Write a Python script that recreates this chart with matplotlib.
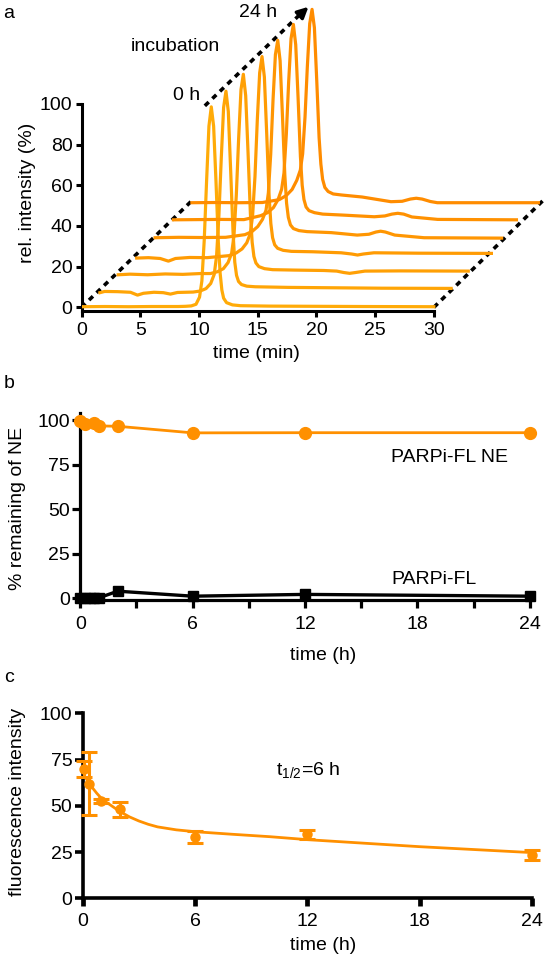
import matplotlib
matplotlib.use("Agg")
import matplotlib.pyplot as plt
import numpy as np

plt.rcParams["font.family"] = ["Liberation Sans", "DejaVu Sans"]
plt.rcParams["font.size"] = 14
plt.rcParams["mathtext.default"] = "regular"

# ---- panel a: HPLC traces, local time (min) / rel. intensity (%) ----
trace0_t = [0, 2, 4, 6, 8.25, 8.85, 9.35, 9.75, 10.05, 10.25, 10.45, 10.65, 10.85, 11.05, 11.25,
            11.45, 11.65, 11.8, 11.95, 12.1, 12.35, 12.85, 13.55, 16, 20, 24, 30]
trace0_y = [0.3, 0.4, 0.3, 0.4, 0.4, 0.5, 0.7, 1.5, 5, 13, 33, 62, 89, 98.5, 89,
            62, 32, 17, 8.5, 4.5, 2.3, 1.2, 0.8, 0.6, 0.5, 0.4, 0.3]

trace1_t = [0, 0.4, 1.5, 2.6, 3.2, 3.7, 4.6, 5.4, 6.0, 6.6, 7.93, 8.53, 9.03, 9.43, 9.73, 9.93,
            10.13, 10.33, 10.53, 10.73, 10.93, 11.13, 11.33, 11.48, 11.63, 11.8, 12.05, 12.5, 13.23,
            16, 20, 24, 29.9]
trace1_y = [0, 0.6, 0.5, 0.2, -1.2, -0.3, 0.2, 0.0, -0.7, 0.1, 0.3, 0.8, 2, 4.5, 9, 18,
            38, 66, 91, 99, 89, 60, 30, 15, 8.5, 5.5, 4.0, 3.2, 2.9,
            2.6, 2.4, 2.2, 2.1]

trace2_t = [0, 1, 2.5, 4, 5.5, 7, 7.85, 8.45, 8.95, 9.35, 9.65, 9.85, 10.05, 10.25, 10.45, 10.65,
            10.85, 11.05, 11.25, 11.4, 11.55, 11.72, 11.97, 12.45, 13.15, 15, 17.5, 18.6, 19.2,
            19.7, 20.2, 21, 24, 29.8]
trace2_y = [0, 0.3, 0, 0.4, 0.2, 0.6, 0.6, 1.5, 3, 6, 10.5, 19, 39, 67, 91, 98.5,
            88, 60, 30, 16, 9, 5.8, 4.0, 3.0, 2.5, 2.3, 2.1, 1.8, 1.1,
            0.7, 1.1, 1.8, 1.9, 1.8]

trace3_t = [0, 1, 2.0, 2.7, 3.3, 4.5, 6, 7.87, 8.47, 8.97, 9.37, 9.67, 9.87, 10.07, 10.27, 10.47,
            10.67, 10.87, 11.07, 11.27, 11.42, 11.57, 11.75, 12.0, 12.47, 13.17, 15, 17.4, 18.3,
            18.8, 19.3, 20.2, 24, 30.2]
trace3_y = [0, 0.2, -0.2, -1.5, -0.2, 0.3, 0.2, 1.2, 2.5, 4.5, 7.5, 12, 21, 40, 68, 91,
            99, 89, 61, 31, 17, 10, 6.5, 4.8, 3.8, 3.3, 3.1, 2.6, 2.0,
            1.5, 2.0, 2.6, 2.4, 2.3]

trace4_t = [0, 2, 4, 6, 7.64, 8.24, 8.74, 9.14, 9.44, 9.64, 9.84, 10.04, 10.24, 10.44, 10.64,
            10.84, 11.04, 11.19, 11.34, 11.52, 11.77, 12.24, 12.94, 15, 17.2, 18.2, 18.8, 19.2,
            19.6, 20.4, 22.9, 29.5]
trace4_y = [0, 0.2, 0.1, 0.2, 1.5, 3, 5.5, 9, 13.5, 22, 41, 68, 90, 97, 87,
            60, 31, 17, 10, 6.3, 4.5, 3.5, 3, 2.5, 1.3, 1.7, 2.8, 3.2,
            2.8, 1.3, 0, -0.2]

trace5_t = [0, 2, 4, 6, 7.41, 8.01, 8.51, 8.91, 9.21, 9.41, 9.61, 9.81, 10.01, 10.21, 10.41,
            10.61, 10.81, 10.96, 11.11, 11.29, 11.54, 12.01, 12.71, 14.5, 17.1, 18.0, 18.6, 19.1,
            19.6, 20.3, 22.5, 29.2]
trace5_y = [0, 0.1, 0.2, 0.1, 2, 3.5, 6, 10, 15, 23, 42, 68, 89, 96, 86,
            60, 31, 17, 10, 6.3, 4.5, 3.5, 2.8, 2.3, 1.5, 1.9, 2.8, 3.2,
            2.8, 1.4, 0.2, 0]

trace6_t = [0, 2, 4, 6, 7.43, 8.03, 8.53, 8.93, 9.23, 9.43, 9.63, 9.83, 10.03, 10.23, 10.43,
            10.63, 10.83, 10.98, 11.13, 11.32, 11.6, 12.03, 12.73, 14.5, 16.95, 17.9, 18.6, 19.1,
            19.6, 20.3, 20.9, 25, 29.5]
trace6_y = [0, 0.1, 0, 0.1, 1.5, 3.5, 6.5, 11, 16, 24, 42, 67, 88, 95, 86,
            60, 32, 19, 11.5, 7.5, 5.5, 4.3, 3.8, 2.8, 0.5, 0.7, 1.8, 2.2,
            1.8, 0.6, 0, 0, 0]

# pseudo-3D offsets of each trace (min, %)
trace_x_shift = [0, 1.57, 3.13, 4.70, 6.27, 7.83, 9.40]
trace_y_shift = [0, 7.2, 16.0, 24.2, 34.2, 43.0, 51.4]

# ---- panel b: stability ----
b_time_ne = [0, 0.25, 0.75, 1, 2, 6, 12, 24]
b_ne = [99.5, 98, 98.5, 96.7, 96.5, 92.8, 92.9, 92.9]
b_time_fl = [0, 0.25, 0.5, 0.75, 1, 2, 6, 12, 24]
b_fl = [0.3, 0.3, 0.3, 0.3, 0.3, 4.0, 1.2, 2.2, 1.2]

# ---- panel c: fluorescence decay ----
c_time = [0.083, 0.33, 1, 2, 6, 12, 24]
c_intensity = [70, 62, 52.5, 48, 33, 34.5, 23.5]
c_err = [4.3, 17, 1, 4, 3.2, 2.4, 2.6]
c_fit_time = [0.2, 0.35, 0.5, 0.75, 1, 1.25, 1.5, 2, 2.5, 3, 3.5, 4, 5, 6, 8, 10, 12, 15, 18, 21, 24]
c_fit = [64.5, 62, 60, 56.8, 54, 52, 50.3, 46.8, 44, 41.8, 40, 38.6, 37, 36, 34.6, 33.3, 31.7,
         29.8, 27.9, 26.3, 24.7]

ORANGE = "#FF9000"
TRACE_COLORS = ["#FFAB08", "#FFA506", "#FFA005", "#FF9B03", "#FF9602", "#FF9101", "#FF8C00"]
W, H = 547, 960


def fig_rect(left_px, top_px, right_px, bottom_px):
    return [left_px / W, 1 - bottom_px / H, (right_px - left_px) / W, (bottom_px - top_px) / H]


def style_axes(ax, lw=2.2, tick_len=5, xpad=4, ypad=2):
    for side in ["top", "right"]:
        ax.spines[side].set_visible(False)
    for side in ["left", "bottom"]:
        ax.spines[side].set_linewidth(lw)
    ax.tick_params(which="both", width=lw, length=tick_len, labelsize=14)
    ax.tick_params(axis="x", which="both", pad=xpad)
    ax.tick_params(axis="y", which="both", pad=ypad)


def panel_a(fig):
    ax = fig.add_axes(fig_rect(81.5, 0, 546.6, 311.4))
    ax.set_xlim(0, 39.6)
    ax.set_ylim(-2, 151)
    style_axes(ax, tick_len=4.5, xpad=3)
    ax.spines["bottom"].set_bounds(0, 30)
    ax.spines["left"].set_bounds(-2, 100)
    ax.set_xticks(range(0, 31, 5))
    ax.set_yticks(range(0, 101, 20))
    ax.patch.set_visible(False)

    traces = [(trace0_t, trace0_y), (trace1_t, trace1_y), (trace2_t, trace2_y), (trace3_t, trace3_y),
              (trace4_t, trace4_y), (trace5_t, trace5_y), (trace6_t, trace6_y)]
    for i, (t, y) in enumerate(traces):
        ax.plot(np.array(t) + trace_x_shift[i], np.array(y) + trace_y_shift[i],
                color=TRACE_COLORS[i], lw=2.3, solid_joinstyle="round", zorder=3)

    dash = (0, (1.5, 1.4))
    ax.plot([0, 9.4], [0, 52.4], color="black", lw=2.6, ls=dash, zorder=2)
    ax.plot([30, 39.3], [0, 52.5], color="black", lw=2.6, ls=dash, zorder=2)
    ax.plot([10.5, 18.8], [99, 145.0], color="black", lw=2.6, ls=dash, zorder=2)
    ax.annotate("", xy=(19.5, 148.6), xytext=(18.5, 143.2),
                arrowprops=dict(arrowstyle="-|>", color="black", lw=2.4, mutation_scale=16))

    ax.text(10.1, 104.3, "0 h", ha="right", va="center", fontsize=14)
    ax.text(15.0, 144.8, "24 h", ha="center", va="center", fontsize=14)
    ax.text(7.96, 128.1, "incubation", ha="center", va="center", fontsize=14)

    fig.text(27 / W, 1 - 193 / H, "rel. intensity (%)", rotation=90, ha="center", va="center")
    fig.text(256.3 / W, 1 - 353 / H, "time (min)", ha="center", va="center")
    fig.text(8.7 / W, 1 - 14 / H, "a", ha="center", va="center")


def panel_b(fig):
    ax = fig.add_axes(fig_rect(80.3, 412.9, 529.7, 600.1))
    ax.set_xlim(0, 24)
    ax.set_ylim(-1, 104)
    style_axes(ax, lw=2.3, tick_len=5.5, xpad=6)
    ax.set_xticks([0, 6, 12, 18, 24])
    ax.set_xticks([3, 9, 15, 21], minor=True)
    ax.set_yticks([0, 25, 50, 75, 100])

    ax.plot(b_time_fl, b_fl, "-s", color="black", ms=7, lw=2.4, clip_on=False, zorder=3)
    ax.plot(b_time_ne, b_ne, "-o", color=ORANGE, ms=8.5, lw=2.0, clip_on=False, zorder=4)

    ax.text(16.6, 79, "PARPi-FL NE", ha="left", va="center", fontsize=14)
    ax.text(16.6, 10.3, "PARPi-FL", ha="left", va="center", fontsize=14)

    fig.text(17.5 / W, 1 - 508 / H, "% remaining of NE", rotation=90, ha="center", va="center")
    fig.text(322.7 / W, 1 - 655 / H, "time (h)", ha="center", va="center")
    fig.text(8.7 / W, 1 - 383 / H, "b", ha="center", va="center")


def panel_c(fig):
    ax = fig.add_axes(fig_rect(82.7, 713.3, 532.1, 898.3))
    ax.set_xlim(0, 24)
    ax.set_ylim(0, 100)
    style_axes(ax, lw=2.6, tick_len=5.5, xpad=5)
    ax.tick_params(axis="x", width=3.4)
    ax.set_xticks([0, 6, 12, 18, 24])
    ax.set_yticks([0, 25, 50, 75, 100])

    ax.plot(c_fit_time, c_fit, color=ORANGE, lw=2.0, clip_on=False, zorder=3,
            solid_joinstyle="round")
    ax.errorbar(c_time, c_intensity, yerr=c_err, fmt="o", color=ORANGE, ms=6.5,
                capsize=5.5, elinewidth=2.2, capthick=2.2, clip_on=False, zorder=4)

    ax.text(10.3, 69.3, "t$_{1/2}$=6 h", ha="left", va="center", fontsize=14)

    fig.text(18 / W, 1 - 802 / H, "fluorescence intensity", rotation=90, ha="center", va="center")
    fig.text(322.7 / W, 1 - 945 / H, "time (h)", ha="center", va="center")
    fig.text(8.7 / W, 1 - 677 / H, "c", ha="center", va="center")


def main():
    fig = plt.figure(figsize=(5.47, 9.6), dpi=100)
    panel_a(fig)
    panel_b(fig)
    panel_c(fig)
    fig.savefig("out.png", dpi=100)
    plt.close(fig)


if __name__ == "__main__":
    main()
